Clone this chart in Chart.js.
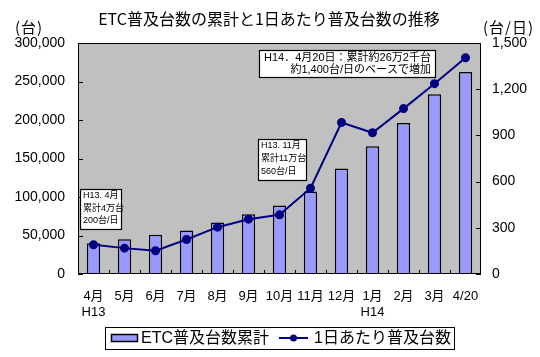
<!DOCTYPE html>
<html><head><meta charset="utf-8">
<script src="https://cdn.jsdelivr.net/npm/chart.js@4"></script>
<style>html,body{margin:0;padding:0;background:#fff}#wrap{width:540px;height:357px}</style>
</head><body><div id="wrap"><canvas id="c" width="540" height="357"></canvas></div>
<script>
const categories = [['4月','H13'],'5月','6月','7月','8月','9月','10月','11月','12月',['1月','H14'],'2月','3月','4/20'];
const cumulativeUnits = [40000,45000,51000,56500,67000,77500,89000,107000,137000,166000,196000,233500,262500];
const dailyUnits = [190,168,151,224,304,356,384,557,984,917,1074,1236,1404];
const leftTicks = [0,50000,100000,150000,200000,250000,300000];
const rightTicks = [0,300,600,900,1200,1500];
const titleText = 'ETC普及台数の累計と1日あたり普及台数の推移';
const seriesNames = ['ETC普及台数累計','1日あたり普及台数'];
const unitLeft = '(台)';
const unitRight = '(台/日)';
const noteApr = ['H13. 4月','累計4万台','200台/日'];
const noteNov = ['H13. 11月','累計11万台','560台/日'];
const noteLatest = ['H14．4月20日：累計約26万2千台','約1,400台/日のベースで増加'];

const JP = '"Liberation Sans","Noto Sans CJK JP",sans-serif';
const BAR = '#9999ff', NAVY = '#000080';

function fmt(v){return Number(v).toLocaleString('en-US');}

const deco = {
  id:'deco',
  beforeDraw(chart){
    const {ctx, chartArea:a} = chart;
    ctx.save(); ctx.fillStyle = '#c0c0c0';
    ctx.fillRect(a.left, a.top, a.width, a.height); ctx.restore();
  },
  afterDatasetsDraw(chart){
    const {ctx, chartArea:a, scales} = chart;
    ctx.save();
    ctx.strokeStyle = '#000'; ctx.lineWidth = 1;
    ctx.strokeRect(a.left+0.5, a.top+0.5, a.width-1, a.height-1);
    ctx.beginPath();
    leftTicks.forEach(v=>{const p=Math.round(scales.y.getPixelForValue(v))+0.5; ctx.moveTo(a.left, p); ctx.lineTo(a.left+5, p);});
    rightTicks.forEach(v=>{const p=Math.round(scales.y1.getPixelForValue(v))+0.5; ctx.moveTo(a.right-5, p); ctx.lineTo(a.right, p);});
    for(let i=1;i<categories.length;i++){
      const b = Math.round((scales.x.getPixelForValue(i-1)+scales.x.getPixelForValue(i))/2)+0.5;
      ctx.moveTo(b, a.bottom); ctx.lineTo(b, a.bottom-4);
    }
    ctx.stroke();
    const box=(x1,y1,x2,y2)=>{ctx.fillStyle='#fff';ctx.fillRect(x1,y1,x2-x1,y2-y1);ctx.strokeStyle='#000';ctx.lineWidth=1.2;ctx.strokeRect(x1+0.5,y1+0.5,x2-x1-1,y2-y1-1);};
    ctx.textBaseline='middle';
    box(80,189,122,230);
    ctx.font='9px '+JP; ctx.fillStyle='#000'; ctx.textAlign='left';
    noteApr.forEach((t,i)=>ctx.fillText(t,83,196+i*12.5));
    box(258,139,307,181);
    ctx.fillStyle='#000';
    noteNov.forEach((t,i)=>ctx.fillText(t,261,145.5+i*13));
    box(259,50,436,78);
    ctx.fillStyle='#000'; ctx.font='11px '+JP;
    ctx.textAlign='left'; ctx.fillText(noteLatest[0],264,57.5);
    ctx.textAlign='right'; ctx.fillText(noteLatest[1],431,70);
    ctx.restore();
  },
  afterDraw(chart){
    const {ctx} = chart;
    ctx.save(); ctx.fillStyle='#000'; ctx.textBaseline='middle';
    ctx.font='16px "Noto Sans CJK JP",sans-serif'; ctx.textAlign='center';
    ctx.fillText(titleText, 269, 19);
    ctx.font='15px "Noto Sans CJK JP",sans-serif'; ctx.textAlign='left';
    ctx.letterSpacing='1px';
    ctx.fillText(unitLeft, 15, 27.5);
    ctx.fillText(unitRight, 483, 27);
    ctx.letterSpacing='0px';
    ctx.strokeStyle='#000'; ctx.lineWidth=1;
    ctx.strokeRect(105.5,327.5,349,22);
    ctx.fillStyle=BAR; ctx.fillRect(111,334,27,8);
    ctx.lineWidth=1.5; ctx.strokeRect(111.5,334.5,26,7);
    ctx.fillStyle='#000'; ctx.font='16px '+JP;
    ctx.fillText(seriesNames[0], 141, 338.5);
    ctx.strokeStyle=NAVY; ctx.lineWidth=2;
    ctx.beginPath(); ctx.moveTo(279,338); ctx.lineTo(308,338); ctx.stroke();
    ctx.fillStyle=NAVY; ctx.beginPath(); ctx.arc(293.5,338,3.5,0,Math.PI*2); ctx.fill();
    ctx.fillStyle='#000';
    ctx.fillText(seriesNames[1], 314, 338.5);
    ctx.restore();
  }
};

new Chart(document.getElementById('c'), {
  type:'bar',
  data:{
    labels: categories,
    datasets:[
      {type:'line', label:seriesNames[1], data:dailyUnits, yAxisID:'y1', order:1,
       borderColor:NAVY, backgroundColor:NAVY, borderWidth:2, pointRadius:3.5,
       pointBackgroundColor:NAVY, pointBorderColor:NAVY, tension:0},
      {type:'bar', label:seriesNames[0], data:cumulativeUnits, yAxisID:'y', order:2,
       backgroundColor:BAR, borderColor:'#000', borderWidth:1.5,
       barPercentage:0.43, categoryPercentage:1}
    ]
  },
  options:{
    responsive:false, animation:false, devicePixelRatio:1,
    layout:{padding:{top:43,left:0,right:0,bottom:0}},
    plugins:{legend:{display:false}, title:{display:false}, tooltip:{enabled:false}},
    scales:{
      x:{grid:{display:false, drawTicks:false}, border:{display:false},
         ticks:{color:'#000', font:{size:13, family:JP}, padding:15, maxRotation:0, autoSkip:false},
         afterFit(s){s.height=83;}},
      y:{position:'left', min:0, max:300000, grid:{display:false, drawTicks:false}, border:{display:false},
         ticks:{stepSize:50000, color:'#000', font:{size:14, family:JP}, padding:13, callback:v=>fmt(v)},
         afterFit(s){s.width=78;}},
      y1:{position:'right', min:0, max:1500, grid:{display:false, drawTicks:false}, border:{display:false},
         ticks:{stepSize:300, color:'#000', font:{size:14, family:JP}, padding:11, callback:v=>fmt(v)},
         afterFit(s){s.width=59;}}
    }
  },
  plugins:[deco]
});
</script></body></html>
